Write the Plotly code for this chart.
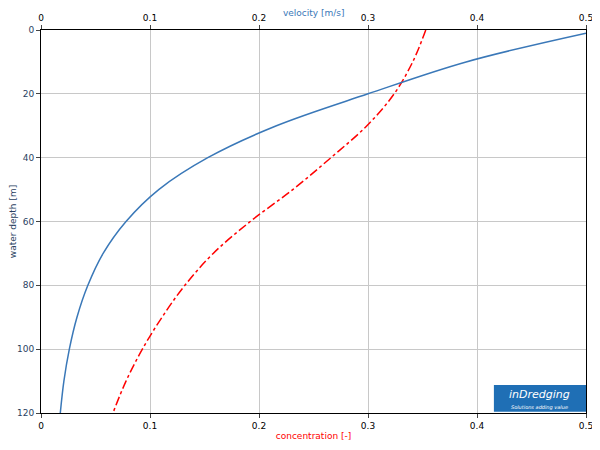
import plotly.graph_objects as go

depth_v = [1, 10, 20, 30, 40, 50, 60, 70, 80, 90, 100, 110, 120]
velocity = [0.5, 0.39, 0.3, 0.216, 0.153, 0.108, 0.078, 0.057, 0.043, 0.033, 0.026, 0.021, 0.0177]
depth_c = [0, 10, 20, 30, 40, 50, 60, 70, 80, 90, 100, 110, 120]
concentration = [0.353, 0.341, 0.324, 0.299, 0.266, 0.231, 0.192, 0.158, 0.132, 0.111, 0.093, 0.078, 0.066]

fig = go.Figure()
fig.add_trace(go.Scatter(x=concentration, y=depth_c, mode="lines", line=dict(color="red", dash="dashdot", width=1.5, shape="spline", smoothing=1), xaxis="x", yaxis="y"))
fig.add_trace(go.Scatter(x=velocity, y=depth_v, mode="lines", line=dict(color="#3a78b8", width=1.5, shape="spline", smoothing=1), xaxis="x2", yaxis="y"))

ax = dict(range=[0, 0.5], dtick=0.1, showgrid=True, gridcolor="#c8c8c8", linecolor="black", automargin=False,
          ticks="outside", ticklen=4, tickfont=dict(size=9, color="black"), zeroline=False, showline=True)
fig.update_layout(
    width=600, height=450, margin=dict(l=33, r=22, t=22, b=45),
    paper_bgcolor="white", plot_bgcolor="white", showlegend=False,
    font=dict(family="DejaVu Sans", size=9),
    xaxis=dict(**ax, title=dict(text="concentration [-]", font=dict(color="red", size=9), standoff=2)),
    xaxis2=dict(**ax, overlaying="x", side="top"),
    yaxis=dict(range=[120, 0], dtick=20, showgrid=True, gridcolor="#c8c8c8", linecolor="black", showline=True,
               mirror=True, ticks="outside", ticklen=4, tickfont=dict(size=9), zeroline=False, automargin=False,
               title=dict(text="water depth [m]", font=dict(size=9), standoff=4)),
)
fig.add_annotation(xref="paper", yref="paper", x=0.5, y=1, yanchor="bottom", yshift=10, showarrow=False,
                   text="velocity [m/s]", font=dict(color="#3a78b8", size=9))
fig.add_shape(type="rect", xref="paper", yref="paper", x0=0.831, x1=1.0, y0=0.003, y1=0.073,
              fillcolor="#1f6fb5", line=dict(width=0))
fig.add_annotation(xref="paper", yref="paper", x=0.915, y=0.048, text="<i>inDredging</i>", showarrow=False,
                   font=dict(color="white", size=11), xanchor="center", yanchor="middle")
fig.add_annotation(xref="paper", yref="paper", x=0.915, y=0.015, text="<i>Solutions adding value</i>", showarrow=False,
                   font=dict(color="white", size=5), xanchor="center", yanchor="middle")
fig.write_html("out.html")
